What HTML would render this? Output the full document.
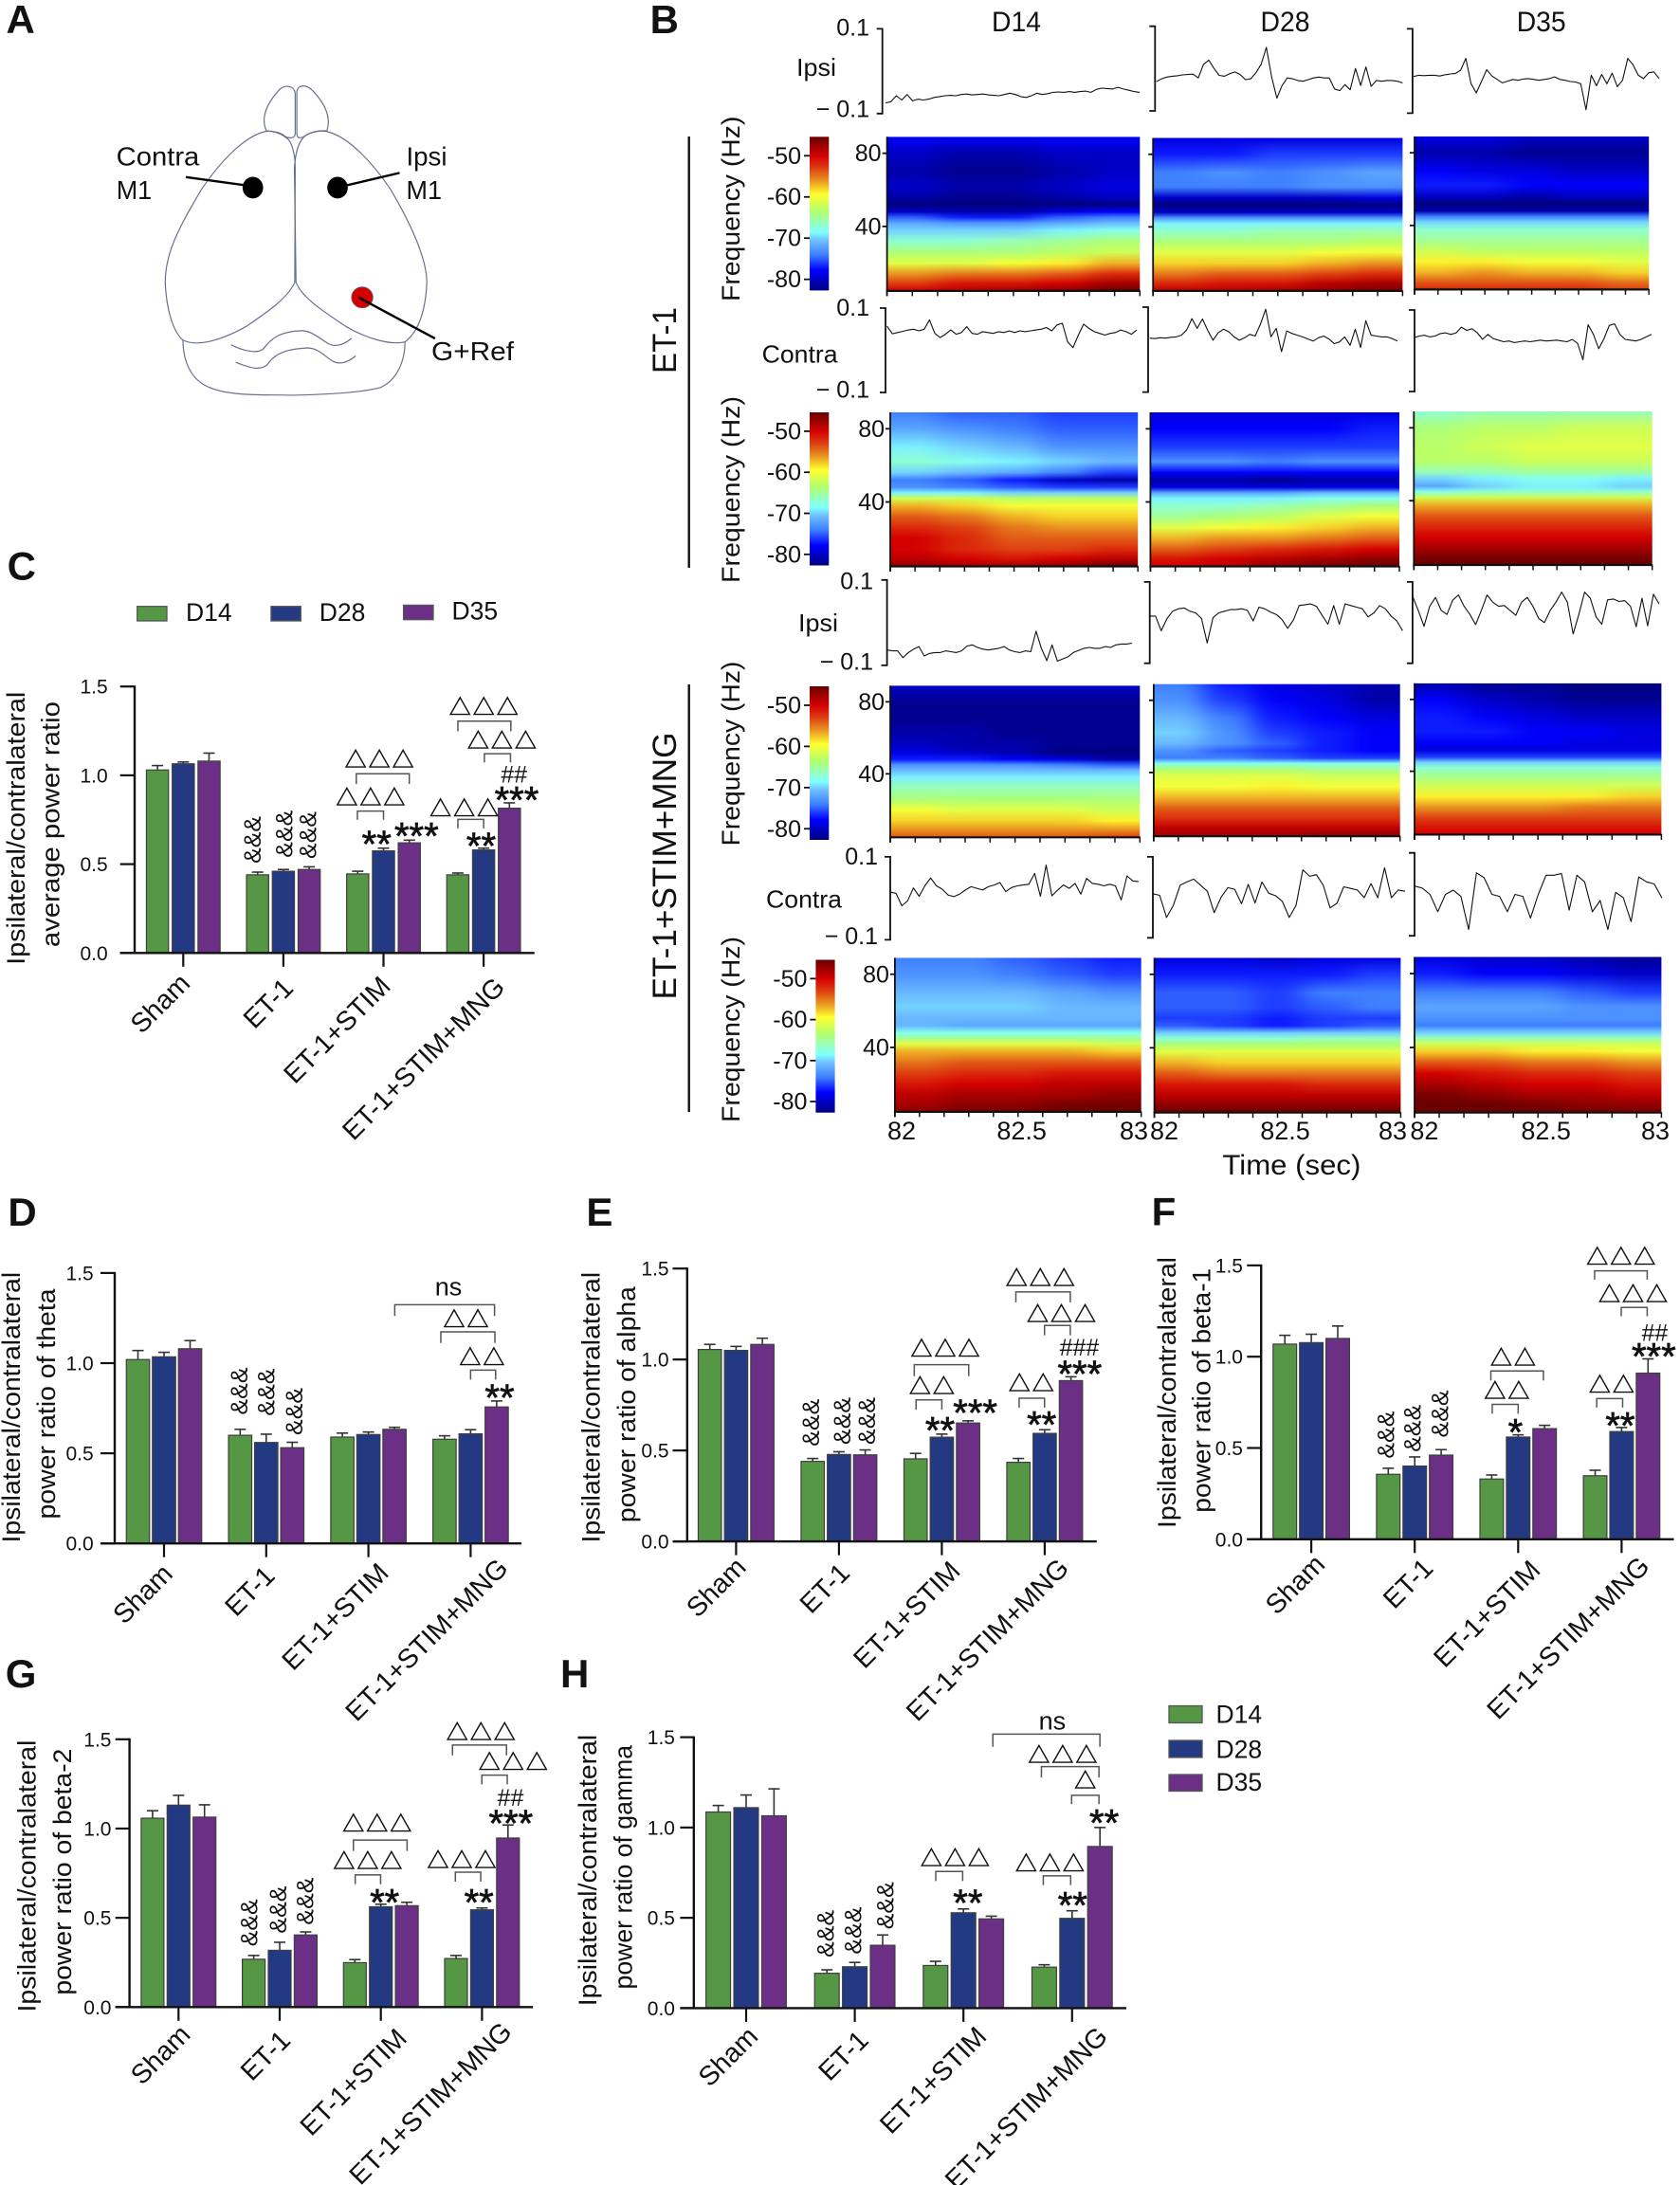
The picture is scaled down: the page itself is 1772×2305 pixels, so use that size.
<!DOCTYPE html>
<html lang="en">
<head>
<meta charset="utf-8">
<title>Ipsilateral and contralateral power figure</title>
<style>
html,body{margin:0;padding:0;background:#fff}
svg{display:block}
text{font-family:"Liberation Sans",Arial,"Noto Sans CJK SC",sans-serif;fill:#111}
.brain{fill:none;stroke:#68708e;stroke-width:1.2;vector-effect:non-scaling-stroke}
.wire{stroke:#000;stroke-width:2.4;vector-effect:non-scaling-stroke}
</style>
</head>
<body>
<svg id="figure" xmlns="http://www.w3.org/2000/svg" width="1772" height="2305" viewBox="0 0 1772 2305">
<rect width="1772" height="2305" fill="#fff"/>
<defs id="gradients">
<filter id="hblur" x="-20%" y="-5%" width="140%" height="110%" color-interpolation-filters="sRGB"><feGaussianBlur stdDeviation="14 0"/></filter>
</defs>
<g>
<g transform="scale(0.43365,0.36996)">
<path class="brain" d="M648 373C635 340 645 300 680 255C695 240 715 245 718 265L718 380C718 395 705 395 695 390C680 375 665 375 648 373"/>
<path class="brain" d="M795 373C805 340 795 300 760 258C745 240 722 240 722 265L722 380C722 395 730 397 745 385C760 375 780 372 795 373"/>
<path class="brain" d="M645 375C590 390 530 470 490 540C440 640 400 720 402 810C405 880 420 945 445 970C480 990 540 970 600 930C650 890 700 850 717 805L718 480C718 440 710 400 695 392C680 378 660 372 645 375Z"/>
<path class="brain" d="M795 375C850 390 910 470 950 540C1000 640 1040 740 1038 810C1035 880 1020 945 985 975C950 985 890 965 840 930C790 890 735 850 720 805L716 480C718 440 725 400 745 385C760 375 780 372 795 375Z"/>
<path class="brain" d="M445 970C445 1030 465 1085 510 1105C560 1130 640 1125 710 1127C790 1125 880 1120 925 1105C965 1085 985 1030 985 975"/>
<path class="brain" d="M562 983C590 1000 625 1010 640 995C660 965 680 945 735 943C770 945 790 985 815 985C830 985 845 975 855 965"/>
<path class="brain" d="M573 1033C600 1045 630 1060 650 1040C670 1005 700 995 750 992C785 995 800 1035 825 1035C840 1035 855 1025 865 1015"/>
<ellipse cx="615" cy="535" rx="25" ry="31" fill="#000"/>
<ellipse cx="821" cy="535" rx="25" ry="31" fill="#000"/>
<ellipse cx="881" cy="848" rx="26" ry="30" fill="#d40000" stroke="#68708e" stroke-width="2"/>
<line class="wire" x1="452" y1="505" x2="595" y2="528"/>
<line class="wire" x1="972" y1="493" x2="845" y2="528"/>
<line class="wire" x1="872" y1="848" x2="1058" y2="965"/>
</g>
<text x="122.7" y="174.6" font-size="28" textLength="87.6" lengthAdjust="spacingAndGlyphs">Contra</text>
<text x="122.7" y="210" font-size="28" textLength="37.5" lengthAdjust="spacingAndGlyphs">M1</text>
<text x="428.5" y="174.6" font-size="28" textLength="43" lengthAdjust="spacingAndGlyphs">Ipsi</text>
<text x="428.5" y="210" font-size="28" textLength="37.5" lengthAdjust="spacingAndGlyphs">M1</text>
<text x="455" y="380" font-size="28" textLength="87" lengthAdjust="spacingAndGlyphs">G+Ref</text>
</g>
<g id="root"></g>
</svg>
<script>
/* ---------- bar chart values: means and upper error lengths per day ---------- */
const categories=['Sham','ET-1','ET-1+STIM','ET-1+STIM+MNG'];
const dayNames=['D14','D28','D35'];
const dayColors=['#559744','#233a82','#6b3085'];
const yTickValues=[0,0.5,1,1.5];
const yTickLabels=['0.0','0.5','1.0','1.5'];

const cD14=[1.03,.44,.445,.44];
const cD28=[1.065,.46,.575,.58];
const cD35=[1.08,.47,.62,.815];
const cD14Err=[.025,.015,.015,.01];
const cD28Err=[.01,.01,.015,.01];
const cD35Err=[.045,.015,.015,.03];

const dD14=[1.02,.60,.59,.578];
const dD28=[1.035,.56,.604,.608];
const dD35=[1.08,.531,.633,.757];
const dD14Err=[.05,.033,.022,.019];
const dD28Err=[.025,.046,.014,.023];
const dD35Err=[.045,.03,.011,.033];

const eD14=[1.055,.44,.454,.435];
const eD28=[1.05,.478,.573,.594];
const eD35=[1.083,.476,.651,.884];
const eD14Err=[.028,.016,.03,.021];
const eD28Err=[.022,.015,.017,.02];
const eD35Err=[.034,.027,.012,.021];

const fD14=[1.069,.356,.33,.348];
const fD28=[1.077,.401,.56,.59];
const fD35=[1.10,.461,.606,.91];
const fD14Err=[.048,.033,.022,.03];
const fD28Err=[.046,.05,.012,.022];
const fD35Err=[.068,.03,.018,.078];

const gD14=[1.058,.268,.249,.272];
const gD28=[1.131,.318,.562,.545];
const gD35=[1.064,.404,.568,.947];
const gD14Err=[.042,.021,.017,.017];
const gD28Err=[.055,.045,.014,.01];
const gD35Err=[.069,.017,.019,.073];

const hD14=[1.086,.193,.236,.227];
const hD28=[1.11,.229,.528,.497];
const hD35=[1.065,.348,.494,.895];
const hD14Err=[.036,.019,.023,.013];
const hD28Err=[.07,.024,.021,.042];
const hD35Err=[.149,.057,.015,.105];

/* ---------- LFP traces, in thousandths of the printed unit ---------- */
const traceEt1IpsiD14=[-75,-72,-58,-68,-55,-70,-66,-68,-66,-62,-60,-58,-57,-58,-55,-54,-56,-55,-54,-56,-57,-58,-55,-52,-55,-60,-62,-58,-52,-55,-53,-50,-49,-50,-48,-50,-48,-47,-50,-43,-40,-41,-42,-38,-42,-45,-48,-50];
const traceEt1IpsiD28=[-31,-24,-20,-18,-17,-15,-14,-13,-22,10,20,0,-16,-18,-12,-8,-14,-26,-24,-10,10,50,-20,-70,-40,-22,-24,-28,-30,-26,-22,-20,-22,-22,-48,-52,-38,-50,0,-40,4,-42,-28,-30,-28,-28,-30,-34];
const traceEt1IpsiD35=[-13,-10,-11,-10,-10,-12,-9,-7,-6,2,30,-30,-52,-25,3,-12,-20,-28,-24,-20,-22,-19,-18,-20,-22,-20,-18,-14,-20,-22,-25,-26,-30,-92,-10,-35,-8,-30,-5,-37,-22,30,15,-10,-18,-4,-2,-18];
const traceEt1ContraD14=[57,39,42,45,48,50,46,50,72,40,30,38,48,38,42,56,40,38,44,42,40,44,42,46,42,46,44,46,48,50,54,46,60,64,20,6,36,62,52,44,40,36,40,42,48,44,38,48];
const traceEt1ContraD28=[27,26,28,27,29,30,34,46,73,50,72,45,22,40,48,42,30,22,28,36,32,60,95,30,50,-5,44,38,34,30,25,20,28,32,25,14,18,30,10,48,5,68,34,32,30,30,26,20];
const traceEt1ContraD35=[32,36,38,34,36,42,44,40,44,58,50,54,44,28,40,30,26,22,24,20,22,24,22,24,26,24,25,26,24,22,28,18,-22,64,40,5,30,62,66,40,28,26,24,28,34,40];
const traceMngIpsiD14=[-64,-66,-66,-82,-70,-62,-56,-78,-72,-70,-70,-66,-68,-70,-66,-55,-52,-58,-62,-64,-62,-60,-56,-64,-68,-70,-66,-68,-20,-60,-89,-52,-90,-85,-80,-70,-65,-60,-58,-60,-60,-56,-58,-52,-50,-50,-48];
const traceMngIpsiD28=[16,16,-20,10,28,34,36,28,24,10,-50,12,24,28,32,32,34,30,4,38,34,26,20,8,-14,6,42,44,46,40,18,-4,42,-4,46,42,38,34,14,24,42,34,16,4,-20];
const traceMngIpsiD35=[65,30,-9,40,62,30,20,55,68,40,20,-5,30,68,50,40,42,30,18,50,62,40,10,0,30,50,75,50,-28,20,75,60,14,-4,56,58,52,54,40,-10,60,-8,70,46];
const traceMngContraD14=[15,12,-18,-6,25,5,30,49,30,22,8,4,10,20,28,24,20,28,32,38,16,26,30,32,34,60,5,80,6,20,32,24,36,10,48,36,34,30,34,30,-4,54,42,40];
const traceMngContraD28=[9,5,-50,-20,30,38,45,30,15,-38,0,24,20,-16,32,-14,38,10,4,-10,-50,-20,68,52,56,30,-26,-15,26,22,18,-1,34,-1,73,-1,18,15];
const traceMngContraD35=[20,15,0,-42,0,10,-5,-85,52,40,0,-5,-42,0,-5,-57,0,46,46,50,-38,46,30,-42,-15,-85,5,-8,-66,42,30,25,-9];

/* ---------- spectrogram power (dB): one row per frequency, five time blocks ---------- */
const specFreqs=[89,80,70,62,56,52,48,45,42,38,32,26,20,14,9,5];
const specEt1IpsiD14=[[-78,-78,-78,-78,-78],[-80,-81,-81,-80,-80],[-81,-82,-82,-81,-80],[-80,-81,-81,-80,-79],[-81,-82,-82,-81,-80],[-84,-85,-85,-84,-83],[-80,-81,-81,-79,-78],[-75,-77,-77,-75,-74],[-72,-73,-73,-72,-71],[-70,-70,-70,-69,-68],[-67,-67,-66,-65,-64],[-64,-64,-64,-63,-62],[-61,-61,-60,-59,-57],[-56,-55,-55,-54,-52],[-53,-51,-51,-50,-48],[-50,-49,-48,-47,-45]];
const specEt1IpsiD28=[[-79,-79,-79,-79,-79],[-77,-77,-76,-76,-76],[-74,-73,-74,-73,-72],[-74,-74,-74,-73,-73],[-80,-80,-80,-80,-79],[-84,-84,-85,-84,-84],[-80,-80,-80,-80,-80],[-73,-73,-73,-73,-73],[-69,-69,-69,-69,-69],[-67,-67,-66,-66,-66],[-64,-64,-64,-64,-63],[-61,-61,-61,-60,-60],[-58,-58,-58,-57,-56],[-55,-54,-54,-53,-52],[-52,-51,-51,-49,-48],[-49,-49,-48,-47,-46]];
const specEt1IpsiD35=[[-79,-79,-80,-80,-80],[-81,-81,-82,-82,-82],[-78,-79,-79,-80,-80],[-77,-77,-78,-78,-78],[-80,-80,-81,-80,-80],[-84,-84,-84,-85,-85],[-81,-81,-81,-81,-81],[-74,-74,-74,-74,-74],[-70,-70,-70,-70,-70],[-67,-67,-67,-67,-67],[-65,-65,-65,-65,-65],[-62,-63,-63,-63,-63],[-59,-59,-60,-60,-61],[-57,-56,-57,-57,-58],[-54,-54,-54,-54,-55],[-52,-52,-52,-52,-53]];
const specEt1ContraD14=[[-74,-75,-75,-76,-76],[-72,-73,-74,-75,-75],[-69,-70,-71,-73,-73],[-67,-68,-69,-70,-71],[-70,-71,-72,-74,-76],[-74,-75,-77,-80,-81],[-73,-74,-75,-76,-76],[-69,-69,-70,-70,-70],[-62,-62,-63,-63,-63],[-57,-58,-60,-60,-60],[-54,-55,-57,-58,-58],[-52,-53,-55,-56,-56],[-50,-52,-54,-54,-54],[-50,-52,-53,-53,-52],[-49,-50,-51,-50,-49],[-47,-48,-48,-47,-45]];
const specEt1ContraD28=[[-79,-79,-79,-79,-79],[-78,-78,-78,-78,-77],[-76,-76,-76,-76,-76],[-73,-73,-74,-73,-73],[-78,-78,-78,-78,-78],[-81,-81,-82,-81,-81],[-79,-79,-79,-79,-79],[-72,-72,-72,-71,-71],[-69,-69,-69,-68,-68],[-67,-67,-66,-65,-64],[-65,-64,-63,-61,-60],[-61,-60,-59,-58,-57],[-57,-56,-56,-55,-54],[-54,-53,-52,-51,-50],[-51,-50,-49,-48,-47],[-50,-49,-47,-46,-45]];
const specEt1ContraD35=[[-67,-66,-66,-66,-66],[-64,-63,-63,-62,-62],[-63,-62,-61,-61,-61],[-63,-63,-62,-62,-62],[-66,-66,-65,-65,-65],[-70,-69,-68,-68,-69],[-72,-70,-69,-69,-70],[-68,-67,-67,-67,-67],[-62,-62,-62,-62,-62],[-57,-57,-57,-57,-57],[-54,-54,-54,-54,-54],[-52,-52,-52,-52,-52],[-50,-50,-50,-50,-50],[-48,-48,-48,-48,-48],[-46,-46,-46,-46,-46],[-45,-45,-45,-45,-45]];
const specMngIpsiD14=[[-80,-80,-80,-80,-80],[-82,-82,-82,-82,-82],[-82,-82,-82,-82,-82],[-81,-81,-82,-82,-82],[-80,-81,-81,-82,-82],[-79,-80,-81,-83,-84],[-77,-77,-78,-79,-81],[-73,-73,-73,-74,-75],[-71,-71,-71,-71,-71],[-69,-69,-69,-69,-69],[-66,-66,-66,-66,-66],[-64,-64,-64,-64,-64],[-60,-61,-61,-61,-62],[-58,-58,-58,-58,-59],[-56,-56,-56,-56,-56],[-54,-54,-54,-54,-53]];
const specMngIpsiD28=[[-74,-77,-79,-80,-81],[-73,-76,-78,-79,-81],[-71,-74,-77,-78,-79],[-70,-73,-76,-77,-78],[-71,-73,-75,-77,-78],[-73,-75,-76,-77,-78],[-74,-74,-75,-76,-76],[-68,-68,-68,-68,-68],[-64,-64,-64,-65,-65],[-61,-61,-61,-62,-62],[-60,-60,-59,-60,-60],[-57,-57,-57,-57,-57],[-54,-54,-54,-54,-54],[-52,-52,-52,-52,-52],[-49,-49,-49,-49,-49],[-48,-48,-48,-47,-47]];
const specMngIpsiD35=[[-81,-82,-82,-83,-83],[-78,-80,-81,-82,-82],[-77,-78,-79,-80,-80],[-77,-77,-78,-78,-79],[-78,-78,-78,-79,-79],[-79,-79,-79,-79,-79],[-76,-76,-76,-76,-76],[-70,-70,-70,-70,-70],[-67,-67,-67,-67,-67],[-65,-65,-65,-65,-65],[-62,-62,-62,-62,-62],[-59,-59,-59,-59,-58],[-56,-56,-56,-55,-55],[-53,-53,-53,-53,-53],[-51,-51,-51,-51,-51],[-50,-50,-50,-50,-50]];
const specMngContraD14=[[-74,-74,-75,-76,-77],[-73,-73,-74,-75,-76],[-71,-71,-71,-72,-73],[-70,-70,-70,-71,-71],[-71,-71,-71,-71,-71],[-71,-72,-72,-72,-72],[-68,-68,-68,-68,-68],[-65,-65,-65,-65,-65],[-61,-61,-61,-61,-62],[-57,-57,-57,-57,-58],[-55,-54,-54,-54,-54],[-53,-52,-52,-51,-51],[-51,-50,-50,-49,-49],[-49,-48,-48,-48,-47],[-48,-47,-47,-46,-46],[-47,-46,-46,-45,-45]];
const specMngContraD28=[[-79,-79,-80,-79,-79],[-77,-77,-77,-77,-76],[-75,-75,-76,-74,-74],[-75,-75,-76,-75,-74],[-76,-76,-77,-76,-76],[-75,-76,-77,-76,-75],[-70,-70,-70,-70,-70],[-67,-67,-67,-66,-66],[-64,-64,-64,-64,-64],[-61,-61,-61,-61,-61],[-57,-58,-58,-58,-58],[-54,-55,-55,-55,-55],[-51,-51,-51,-52,-52],[-49,-49,-49,-49,-49],[-47,-47,-47,-47,-47],[-45,-45,-45,-45,-45]];
const specMngContraD35=[[-79,-80,-80,-81,-82],[-77,-78,-78,-79,-80],[-74,-74,-74,-75,-76],[-72,-72,-72,-73,-73],[-73,-73,-73,-73,-73],[-74,-74,-74,-74,-74],[-70,-70,-70,-70,-70],[-66,-66,-66,-66,-66],[-62,-62,-62,-62,-62],[-58,-58,-59,-59,-60],[-54,-54,-55,-55,-56],[-50,-51,-52,-52,-53],[-48,-49,-50,-50,-51],[-46,-47,-48,-48,-49],[-45,-45,-46,-47,-47],[-45,-45,-45,-45,-46]];
const colorbarTicks=[-50,-60,-70,-80];
const colormapDb=[-45.4,-50,-52.8,-55.9,-59.4,-63.6,-68.6,-70.5,-74,-77.8,-82.7];
const colormapRgb=[[106,0,0],[212,0,0],[220,58,16],[232,144,32],[255,255,48],[176,255,112],[128,255,255],[112,192,255],[63,128,255],[0,0,255],[0,0,127]];
const freqTicks=[80,40];
const timeLabels=['82','82.5','83'];

/* ---------- drawing helpers ---------- */
const NS='http://www.w3.org/2000/svg';
const root=document.getElementById('root');
const defs=document.getElementById('gradients');
function el(tag,attrs,parent){
  const n=document.createElementNS(NS,tag);
  for(const k in attrs)n.setAttribute(k,attrs[k]);
  (parent||root).appendChild(n);
  return n;
}
function group(name,parent){
  const g=el('g',{},parent);
  
  
  return g;
}
function line(name,x1,y1,x2,y2,sw,color,parent){
  const n=el('line',{x1:x1,y1:y1,x2:x2,y2:y2,stroke:color||'#111','stroke-width':sw||2},parent);
  
  
  return n;
}
function label(name,str,x,y,size,parent,opts){
  opts=opts||{};
  const a={x:x,y:y,'font-size':size};
  if(opts.anchor)a['text-anchor']=opts.anchor;
  if(opts.weight)a['font-weight']=opts.weight;
  if(opts.len){a.textLength=opts.len;a.lengthAdjust='spacingAndGlyphs';}
  if(opts.family)a.style='font-family:'+opts.family;
  if(opts.spacing)a['letter-spacing']=opts.spacing;
  if(opts.stroke){a.stroke='#111';a['stroke-width']=opts.stroke;}
  if(opts.rot!==undefined){
    a.x=0;a.y=opts.base||0;
    a.transform='translate('+x+','+y+') rotate('+opts.rot+')';
  }
  const n=el('text',a,parent);
  n.textContent=str;
  
  
  return n;
}
function frame(ox,oy,sx,sy){return {x:v=>ox+v/sx,y:v=>oy+v/sy};}

/* ---------- panel letters ---------- */
const letters=[['A',6.5,35],['B',685.6,35],['C',7.6,611.5],['D',8.4,1293],['E',618.4,1293],['F',1214.6,1292.4],['G',5.7,1780],['H',591,1780]];
letters.forEach(function(l){
  label('panel-letter-'+l[0].toLowerCase(),l[0],l[1],l[2],42,root,{weight:'bold'});
});

/* ---------- jet-like colour scale ---------- */
function dbColor(v){
  const d=colormapDb;
  if(v>=d[0])return 'rgb('+colormapRgb[0].join(',')+')';
  for(let i=1;i<d.length;i++){
    if(v>=d[i]){
      const t=(v-d[i])/(d[i-1]-d[i]);
      const a=colormapRgb[i],b=colormapRgb[i-1];
      return 'rgb('+a.map((c,k)=>Math.round(c+(b[k]-c)*t)).join(',')+')';
    }
  }
  return 'rgb('+colormapRgb[colormapRgb.length-1].join(',')+')';
}

/* ---------- spectrograms ---------- */
let gradCount=0;
function makeGradient(stops){
  const id='grad'+(gradCount++);
  const g=el('linearGradient',{id:id,x1:0,y1:0,x2:0,y2:1},defs);
  stops.forEach(function(s){el('stop',{offset:s[0],'stop-color':s[1]},g);});
  return 'url(#'+id+')';
}
const freqTop=89,freqBottom=5;
function drawSpectrogram(name,rows,box,showLabels,parent){
  const g=group(name,parent);
  const x0=box[0],x1=box[1],top=box[2],bot=box[3];
  const freqY=f=>top+(freqTop-f)/(freqTop-freqBottom)*(bot-top);
  const nCols=rows[0].length;
  const cw=(x1-x0)/nCols;
  const clipId='clip'+(gradCount++);
  const clip=el('clipPath',{id:clipId},defs);
  el('rect',{x:x0,y:top,width:x1-x0,height:bot-top},clip);
  const clipped=el('g',{'clip-path':'url(#'+clipId+')'},g);
  
  
  const soft=el('g',{filter:'url(#hblur)'},clipped);
  
  
  for(let c=0;c<nCols;c++){
    const stops=specFreqs.map((f,r)=>[(freqY(f)-top)/(bot-top),dbColor(rows[r][c])]);
    const pad=c===0?40:0;
    const tail=c===nCols-1?40:0.6;
    const cell=el('rect',{x:x0+c*cw-pad,y:top,width:cw+pad+tail,height:bot-top,fill:makeGradient(stops)},soft);
    
    
  }
  line('time-axis',x0-1,bot+0.5,x1,bot+0.5,2.2,'#111',g);
  line('frequency-axis',x0,top,x0,bot+6,1.8,'#111',g);
  for(let i=0;i<=10;i++){
    const tx=x0+(x1-x0)*i/10;
    line('time-tick',tx,bot,tx,bot+6,1.5,'#111',g);
  }
  freqTicks.forEach(function(f){
    line('frequency-tick-'+f,x0-5,freqY(f),x0,freqY(f),1.8,'#111',g);
    if(showLabels)label('frequency-label-'+f,String(f),x0-6,freqY(f)+8.5,25,g,{anchor:'end'});
  });
}
function drawColorbar(name,x0,x1,top,bot,parent){
  const g=group(name,parent);
  const dTop=colormapDb[0],dBot=colormapDb[colormapDb.length-1];
  const stops=colormapDb.map(d=>[(dTop-d)/(dTop-dBot),dbColor(d)]);
  const bar=el('rect',{x:x0,y:top,width:x1-x0,height:bot-top,fill:makeGradient(stops)},g);
  
  
  colorbarTicks.forEach(function(t){
    const y=top+(dTop-t)/(dTop-dBot)*(bot-top);
    line('colorbar-tick',x0-6,y,x0,y,1.8,'#111',g);
    label('colorbar-label',String(t),x0-9,y+8.5,25,g,{anchor:'end'});
  });
}

/* ---------- LFP traces ---------- */
function drawTrace(name,values,box,parent){
  const g=group(name,parent);
  const bx=box[0],yt=box[1],yb=box[2],x0=box[3],x1=box[4];
  const yc=(yt+yb)/2,half=(yb-yt)/2;
  const bracket=el('path',{d:'M'+(bx-6)+' '+yt+'H'+bx+'V'+yb+'H'+(bx-6),fill:'none',stroke:'#111','stroke-width':1.8},g);
  
  
  const pts=values.map((v,i)=>(x0+(x1-x0)*i/(values.length-1)).toFixed(1)+','+(yc-v/100*half).toFixed(1)).join(' ');
  const pl=el('polyline',{points:pts,fill:'none',stroke:'#111','stroke-width':1.1,'stroke-linejoin':'round'},g);
  
  
}

const B=group('panel-b');
['D14','D28','D35'].forEach(function(t,i){
  label('column-title-'+t.toLowerCase(),t,[1072,1355.5,1625.7][i],33,30,B,{anchor:'middle',len:52});
});
drawTrace('trace-et1-ipsi-d14',traceEt1IpsiD14,[930.7,30.4,119.8,934,1202],B);
drawTrace('trace-et1-ipsi-d28',traceEt1IpsiD28,[1218.3,27.7,117,1219.7,1479.4],B);
drawTrace('trace-et1-ipsi-d35',traceEt1IpsiD35,[1489.9,30.4,119.4,1491,1750],B);
drawTrace('trace-et1-contra-d14',traceEt1ContraD14,[934,325,414,935.6,1199],B);
drawTrace('trace-et1-contra-d28',traceEt1ContraD28,[1211,324,413.6,1212.7,1474],B);
drawTrace('trace-et1-contra-d35',traceEt1ContraD35,[1492,327,413,1491.3,1742],B);
drawTrace('trace-mng-ipsi-d14',traceMngIpsiD14,[935.6,611.8,701.9,935.6,1193.9],B);
drawTrace('trace-mng-ipsi-d28',traceMngIpsiD28,[1212.7,613.9,699.7,1212.7,1479.4],B);
drawTrace('trace-mng-ipsi-d35',traceMngIpsiD35,[1489.9,613.9,699.7,1489.9,1750],B);
drawTrace('trace-mng-contra-d14',traceMngContraD14,[939,903.9,991.4,939,1200.9],B);
drawTrace('trace-mng-contra-d28',traceMngContraD28,[1216,903.9,989.3,1216,1482],B);
drawTrace('trace-mng-contra-d35',traceMngContraD35,[1492,899.7,987.2,1492,1753],B);

drawSpectrogram('spectrogram-et1-ipsi-d14',specEt1IpsiD14,[935.6,1202.3,144.3,306.4],true,B);
drawSpectrogram('spectrogram-et1-ipsi-d28',specEt1IpsiD28,[1216.2,1479.4,145.5,306.4],false,B);
drawSpectrogram('spectrogram-et1-ipsi-d35',specEt1IpsiD35,[1492,1739.2,143.9,304.9],false,B);
drawSpectrogram('spectrogram-et1-contra-d14',specEt1ContraD14,[939,1200.2,435,597],true,B);
drawSpectrogram('spectrogram-et1-contra-d28',specEt1ContraD28,[1213.4,1476,435,597],false,B);
drawSpectrogram('spectrogram-et1-contra-d35',specEt1ContraD35,[1491.3,1742.7,434,595.5],false,B);
drawSpectrogram('spectrogram-mng-ipsi-d14',specMngIpsiD14,[939,1202.3,723.3,882.8],true,B);
drawSpectrogram('spectrogram-mng-ipsi-d28',specMngIpsiD28,[1216.9,1476.7,721.6,881.6],false,B);
drawSpectrogram('spectrogram-mng-ipsi-d35',specMngIpsiD35,[1492,1752.4,720.8,879.9],false,B);
drawSpectrogram('spectrogram-mng-contra-d14',specMngContraD14,[943.9,1203.7,1010.4,1172.4],true,B);
drawSpectrogram('spectrogram-mng-contra-d28',specMngContraD28,[1217.6,1477.4,1010.4,1173.2],false,B);
drawSpectrogram('spectrogram-mng-contra-d35',specMngContraD35,[1492,1752.4,1009.5,1173.2],false,B);

drawColorbar('colorbar-et1-ipsi',854,874.3,144.3,306.4,B);
drawColorbar('colorbar-et1-contra',854,874.3,435,596.5,B);
drawColorbar('colorbar-mng-ipsi',854,874.3,724,886,B);
drawColorbar('colorbar-mng-contra',860.4,880.6,1012.5,1173.7,B);

[[122.6,318],[418,615],[697.6,892.5],[988,1184]].forEach(function(r){
  label('frequency-axis-title','Frequency (Hz)',772,(r[0]+r[1])/2,27,B,{anchor:'middle',rot:-90,base:8,len:r[1]-r[0]});
});
[['ipsi-row-label','Ipsi',861,71,42],['contra-row-label','Contra',843.6,373.7,80],['ipsi-row-label','Ipsi',863,657,42],['contra-row-label','Contra',848,948.5,80]].forEach(function(r){
  label(r[0],r[1],r[2],r[3]+9,26,B,{anchor:'middle',len:r[4]});
});
[[917,28.5,'0.1'],[917,114.7,'− 0.1'],[917,324,'0.1'],[917,410.4,'− 0.1'],[921,612.6,'0.1'],[921,697.6,'− 0.1'],[926,903,'0.1'],[926,987,'− 0.1']].forEach(function(r){
  label('amplitude-label',r[2],r[0],r[1]+9,25,B,{anchor:'end'});
});
label('group-label-et1','ET-1',701,359,35,B,{anchor:'middle',rot:-90,base:12,len:70});
label('group-label-et1-stim-mng','ET-1+STIM+MNG',701,913.5,35,B,{anchor:'middle',rot:-90,base:12,len:282});
line('group-line-et1',726.7,144,726.7,599,2.4,'#111',B);
line('group-line-et1-stim-mng',726.7,722,726.7,1173,2.4,'#111',B);
[[951,1077.6,1196],[1228,1355.5,1469],[1502.4,1630.6,1746]].forEach(function(col){
  col.forEach(function(x,i){
    label('time-tick-label',timeLabels[i],x,1202,27,B,{anchor:'middle'});
  });
});
label('time-axis-title','Time (sec)',1362.4,1239,30,B,{anchor:'middle',len:146});

/* ---------- bar panels ---------- */
const panels=[
 {id:'c',means:[cD14,cD28,cD35],errs:[cD14Err,cD28Err,cD35Err],ax:142,left:126.7,right:563.7,top:724.2,y0:1005.3,c0:193.3,dg:105.6,bw:23.3,ds:27.2,labelR:113.7,
  labelDx:[8.7,12,9,24],labelY:[1039,1044,1042,1043],
  titles:[['Ipsilateral/contralateral',19,873.7,288],['average power ratio',55.5,869.6,259]]},
 {id:'d',means:[dD14,dD28,dD35],errs:[dD14Err,dD28Err,dD35Err],ax:121,left:106,right:550,top:1342.9,y0:1628.2,c0:173,dg:107.8,bw:24.5,ds:27.5,labelR:98.7,
  labelDx:[10.7,10.7,23,41],labelY:[1662,1664,1661,1656],
  titles:[['Ipsilateral/contralateral',14,1484.7,285.7],['power ratio of theta',51,1481,243]]},
 {id:'e',means:[eD14,eD28,eD35],errs:[eD14Err,eD28Err,eD35Err],ax:724.8,left:709.5,right:1156.8,top:1338.2,y0:1626.1,c0:776.4,dg:108.5,bw:24.5,ds:27.7,labelR:705.6,
  labelDx:[12,13,21,27],labelY:[1655,1661,1659,1656],
  titles:[['Ipsilateral/contralateral',625.6,1484.7,285.7],['power ratio of alpha',663,1481.6,249]]},
 {id:'f',means:[fD14,fD28,fD35],errs:[fD14Err,fD28Err,fD35Err],ax:1330.2,left:1315.3,right:1765.5,top:1334.9,y0:1623.8,c0:1383.1,dg:109.1,bw:24.8,ds:27.9,labelR:1311,
  labelDx:[16,21,25,31],labelY:[1652,1656,1658,1654],
  titles:[['Ipsilateral/contralateral',1232.8,1469,286],['power ratio of beta-1',1269.3,1466.8,258]]},
 {id:'g',means:[gD14,gD28,gD35],errs:[gD14Err,gD28Err,gD35Err],ax:136.6,left:121.7,right:562.2,top:1834.8,y0:2117.3,c0:188.3,dg:106.7,bw:24,ds:27.4,labelR:117.5,
  labelDx:[14,13,29,33],labelY:[2148,2154,2152,2145],
  titles:[['Ipsilateral/contralateral',30.6,1979,287],['power ratio of beta-2',68,1974.6,260]]},
 {id:'h',means:[hD14,hD28,hD35],errs:[hD14Err,hD28Err,hD35Err],ax:731.8,left:717.4,right:1188,top:1832.6,y0:2118.4,c0:787,dg:114.6,bw:25.9,ds:29.4,labelR:712,
  labelDx:[14,16,26,39],labelY:[2150,2154,2150,2150],
  titles:[['Ipsilateral/contralateral',622,1973,286.5],['power ratio of gamma',659.7,1969.7,257.6]]}
];
const panelGroups={};
function drawPanel(p){
  const g=group('panel-'+p.id);
  panelGroups[p.id]=g;
  const y=v=>p.y0-(v/1.5)*(p.y0-p.top);
  const xGroup=i=>p.c0+i*p.dg;
  const tickBottom=p.y0+14.5;
  p.means.forEach(function(series,d){
    series.forEach(function(v,i){
      const cx=xGroup(i)+(d-1)*p.ds;
      const top=y(v),capY=y(v+p.errs[d][i]);
      line('error-bar-'+dayNames[d].toLowerCase(),cx,top,cx,capY,1.6,'#333',g);
      line('error-cap-'+dayNames[d].toLowerCase(),cx-6,capY,cx+6,capY,1.6,'#333',g);
      const r=el('rect',{x:cx-p.bw/2,y:top,width:p.bw,height:p.y0-top,fill:dayColors[d],stroke:'#3f3f3f','stroke-width':1.2},g);
      
      
    });
  });
  line('y-axis',p.ax,p.top-1,p.ax,p.y0+1,2.4,'#111',g);
  line('x-axis',p.left,p.y0,p.right,p.y0,2.4,'#111',g);
  yTickValues.forEach(function(v,i){
    line('y-tick',p.left,y(v),p.ax,y(v),2.2,'#111',g);
    label('y-tick-label',yTickLabels[i],p.labelR,y(v)+7.5,21,g,{anchor:'end'});
  });
  categories.forEach(function(c,i){
    line('x-tick',xGroup(i),p.y0,xGroup(i),tickBottom,2.2,'#111',g);
    label('x-category-label',c,xGroup(i)+p.labelDx[i],p.labelY[i],28.5,g,{anchor:'end',rot:-45});
  });
  p.titles.forEach(function(t,i){
    label(i?'y-axis-title-line-2':'y-axis-title-line-1',t[0],t[1],t[2],27,g,{anchor:'middle',rot:-90,base:7,len:t[3]});
  });
}
panels.forEach(drawPanel);

/* ---------- significance annotations ---------- */
function amps(g,f,x,y){label('significance-ampersands','&&&',f.x(x),f.y(y),25,g,{anchor:'middle',rot:-90,base:9});}
function tris(g,f,x,y,n){
  label('significance-triangles','△'.repeat(n),f.x(x),f.y(y)+8,23,g,{anchor:'middle',family:'"Noto Sans CJK SC",sans-serif',spacing:'2px',stroke:0.6});
}
function bracket(g,f,x1,x2,yTop,yDrop){
  const n=el('path',{d:'M'+f.x(x1)+' '+f.y(yDrop)+'V'+f.y(yTop)+'H'+f.x(x2)+'V'+f.y(yDrop),fill:'none',stroke:'#555','stroke-width':1.5},g);
  
  
}
function stars(g,f,x,y,n){label('significance-stars','*'.repeat(n),f.x(x),f.y(y)+21,40,g,{anchor:'middle',stroke:0.7});}
function hashes(g,f,x,y,n){label('significance-hashes','#'.repeat(n),f.x(x),f.y(y)+9,25,g,{anchor:'middle'});}
function nsText(g,f,x,y){label('not-significant-label','ns',f.x(x),f.y(y)+8,27,g,{anchor:'middle'});}

(function(){
  let g=panelGroups.c,f=frame(0,570,2.613,2.412);
  amps(g,f,695,762);amps(g,f,783,747);amps(g,f,848,750);
  tris(g,f,1048,558,3);bracket(g,f,982,1128,594,620);
  tris(g,f,1024,655,3);bracket(g,f,985,1057,689,711);
  stars(g,f,1038,755,2);stars(g,f,1148,735,3);
  tris(g,f,1336,425,3);bracket(g,f,1262,1408,460,486);
  tris(g,f,1386,510,3);bracket(g,f,1335,1407,543,565);
  hashes(g,f,1417,595,2);stars(g,f,1424,643,3);
  tris(g,f,1282,683,3);bracket(g,f,1262,1333,710,733);
  stars(g,f,1326,760,2);

  g=panelGroups.d;f=frame(0,1240,2.613,2.8);
  amps(g,f,658,637);amps(g,f,733,640);amps(g,f,810,697);
  nsText(g,f,1236,332);bracket(g,f,1088,1363,382,415);
  tris(g,f,1287,425,2);bracket(g,f,1215,1364,462,495);
  tris(g,f,1331,537,2);bracket(g,f,1297,1366,575,603);
  stars(g,f,1377,635,2);

  g=panelGroups.e;f=frame(600,1240,2.613,2.8);
  amps(g,f,666,730);amps(g,f,753,725);amps(g,f,820,725);
  tris(g,f,1040,512,3);bracket(g,f,952,1102,559,593);
  tris(g,f,1003,623,2);bracket(g,f,957,1028,663,692);
  stars(g,f,1023,732,2);stars(g,f,1120,680,3);
  tris(g,f,1302,304,3);bracket(g,f,1232,1382,344,375);
  tris(g,f,1360,410,3);bracket(g,f,1311,1382,443,472);
  hashes(g,f,1407,507,3);stars(g,f,1408,565,3);
  tris(g,f,1277,615,2);bracket(g,f,1241,1311,658,686);
  stars(g,f,1303,715,2);

  g=panelGroups.f;f=frame(1200,1240,2.741,2.613);
  amps(g,f,717,715);amps(g,f,794,697);amps(g,f,873,657);
  tris(g,f,1088,503,2);bracket(g,f,1021,1173,539,565);
  tris(g,f,1070,595,2);bracket(g,f,1025,1100,631,657);
  stars(g,f,1092,688,1);
  tris(g,f,1400,225,3);bracket(g,f,1321,1473,263,287);
  tris(g,f,1435,328,3);bracket(g,f,1398,1473,364,388);
  hashes(g,f,1495,432,2);stars(g,f,1492,480,3);
  tris(g,f,1373,577,2);bracket(g,f,1327,1402,615,640);
  stars(g,f,1395,670,2);

  g=panelGroups.g;f=frame(0,1740,2.613,2.775);
  amps(g,f,686,800);amps(g,f,766,762);amps(g,f,840,737);
  tris(g,f,1042,510,3);bracket(g,f,974,1122,558,590);
  tris(g,f,1016,620,3);bracket(g,f,979,1049,660,687);
  stars(g,f,1060,720,2);
  tris(g,f,1328,243,3);bracket(g,f,1247,1396,280,310);
  tris(g,f,1417,330,3);bracket(g,f,1328,1398,368,395);
  hashes(g,f,1407,433,2);stars(g,f,1408,488,3);
  tris(g,f,1275,617,3);bracket(g,f,1255,1325,652,680);
  stars(g,f,1320,720,2);

  g=panelGroups.h;f=frame(590,1740,2.01,2.775);
  amps(g,f,564,832);amps(g,f,622,823);amps(g,f,690,750);
  tris(g,f,841,612,3);bracket(g,f,798,855,650,678);
  stars(g,f,866,722,2);
  nsText(g,f,1045,212);bracket(g,f,919,1146,248,285);
  tris(g,f,1069,310,3);bracket(g,f,1022,1144,343,375);
  tris(g,f,1117,385,1);bracket(g,f,1086,1144,427,453);
  stars(g,f,1155,487,2);
  tris(g,f,1042,627,3);bracket(g,f,1026,1084,663,690);
  stars(g,f,1088,728,2);
})();

/* ---------- legends ---------- */
function legendEntry(g,d,sx,sy,sw,sh,tx,ty){
  const s=el('rect',{x:sx,y:sy,width:sw,height:sh,fill:dayColors[d],stroke:'#555','stroke-width':1.3},g);
  
  
  label('legend-label-'+dayNames[d].toLowerCase(),dayNames[d],tx,ty,26.5,g);
}
const legendC=group('legend-panel-c');
legendEntry(legendC,0,144.7,639.7,31.3,15.3,196,655);
legendEntry(legendC,1,285.9,639.7,31.4,15.3,336.8,655);
legendEntry(legendC,2,425.6,638.4,31.4,15.3,476.5,653.7);
const legendH=group('legend-panel-h');
legendEntry(legendH,0,1233,1799.5,35,18,1282.5,1817.5);
legendEntry(legendH,1,1233,1836,35,18,1282.5,1854.6);
legendEntry(legendH,2,1233,1872,35,17.5,1282.5,1888.8);
</script>
</body>
</html>
